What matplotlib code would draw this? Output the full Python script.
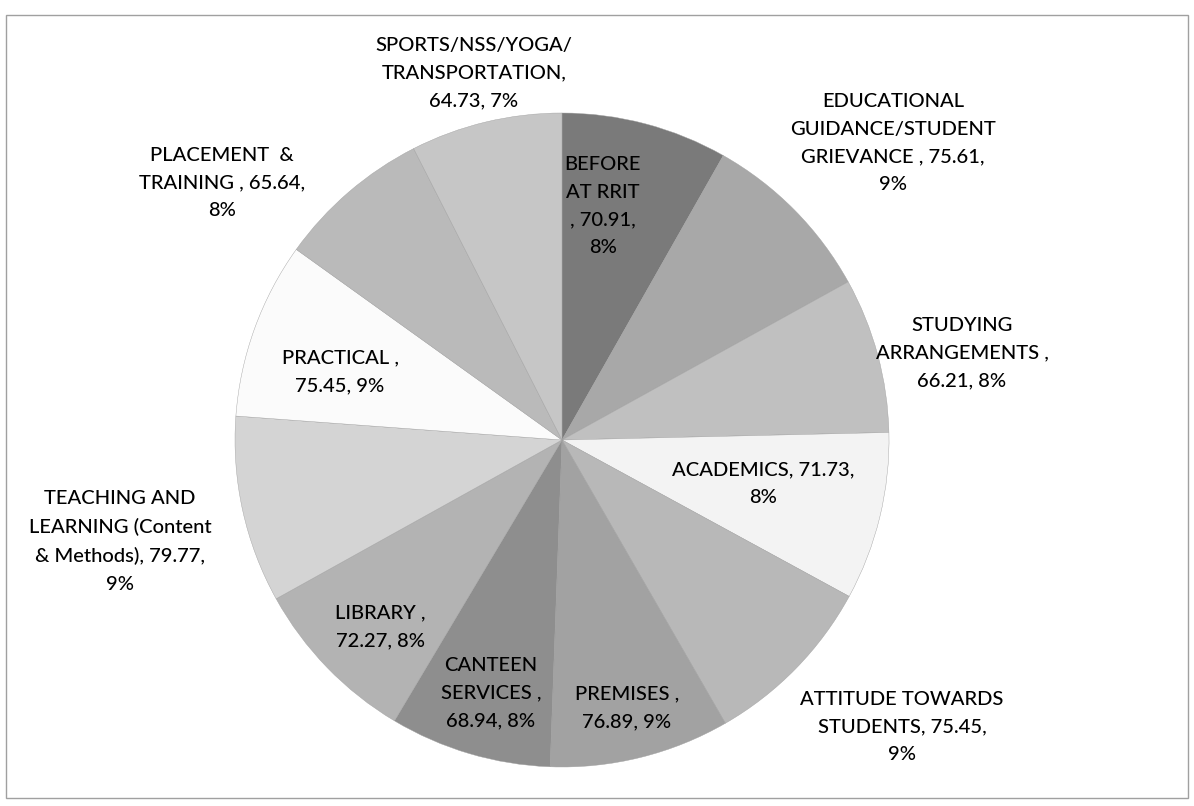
import matplotlib.pyplot as plt
from matplotlib.patches import Rectangle

# slices, clockwise from 12 o'clock
categories = [
    "BEFORE\nAT RRIT",
    "EDUCATIONAL\nGUIDANCE/STUDENT\nGRIEVANCE",
    "STUDYING\nARRANGEMENTS",
    "ACADEMICS",
    "ATTITUDE TOWARDS\nSTUDENTS",
    "PREMISES",
    "CANTEEN\nSERVICES",
    "LIBRARY",
    "TEACHING AND\nLEARNING (Content\n& Methods)",
    "PRACTICAL",
    "PLACEMENT  &\nTRAINING",
    "SPORTS/NSS/YOGA/\nTRANSPORTATION",
]
scores = [70.91, 75.61, 66.21, 71.73, 75.45, 76.89, 68.94, 72.27, 79.77, 75.45, 65.64, 64.73]
label_text = [
    "BEFORE\nAT RRIT\n, 70.91,\n8%",
    "EDUCATIONAL\nGUIDANCE/STUDENT\nGRIEVANCE , 75.61,\n9%",
    "STUDYING\nARRANGEMENTS ,\n66.21, 8%",
    "ACADEMICS, 71.73,\n8%",
    "ATTITUDE TOWARDS\nSTUDENTS, 75.45,\n9%",
    "PREMISES ,\n76.89, 9%",
    "CANTEEN\nSERVICES ,\n68.94, 8%",
    "LIBRARY ,\n72.27, 8%",
    "TEACHING AND\nLEARNING (Content\n& Methods), 79.77,\n9%",
    "PRACTICAL ,\n75.45, 9%",
    "PLACEMENT  &\nTRAINING , 65.64,\n8%",
    "SPORTS/NSS/YOGA/\nTRANSPORTATION,\n64.73, 7%",
]
grays = ["#7a7a7a", "#a8a8a8", "#c0c0c0", "#f3f3f3", "#b8b8b8", "#a2a2a2",
         "#8e8e8e", "#b3b3b3", "#d4d4d4", "#fbfbfb", "#bababa", "#c6c6c6"]

# label centres in pixels (x, y from top)
label_pos = [(603, 206), (893, 143), (962, 353), (763, 484), (902, 727), (627, 708),
             (491, 693), (380, 627), (120, 541), (340, 372), (222, 183), (474, 73)]

W, H = 1194, 806
fig = plt.figure(figsize=(W / 100, H / 100), dpi=100)
ax = fig.add_axes([0, 0, 1, 1])

ax.pie(scores, colors=grays, startangle=90, counterclock=False,
       center=(562, H - 440), radius=327,
       wedgeprops=dict(edgecolor="#a0a0a0", linewidth=0.3))
# pie resets the limits, so set them afterwards
ax.set_xlim(0, W)
ax.set_ylim(0, H)
ax.set_aspect("equal")
ax.axis("off")

for txt, (x, y) in zip(label_text, label_pos):
    ax.text(x, H - y, txt, ha="center", va="center", fontsize=14.5,
            family="Lato", fontweight="medium", linespacing=1.75, color="#000000")

ax.add_patch(Rectangle((6, H - 798), 1182, 783, fill=False,
                       edgecolor="#a0a0a0", linewidth=1))

fig.savefig("out.png", dpi=100)
